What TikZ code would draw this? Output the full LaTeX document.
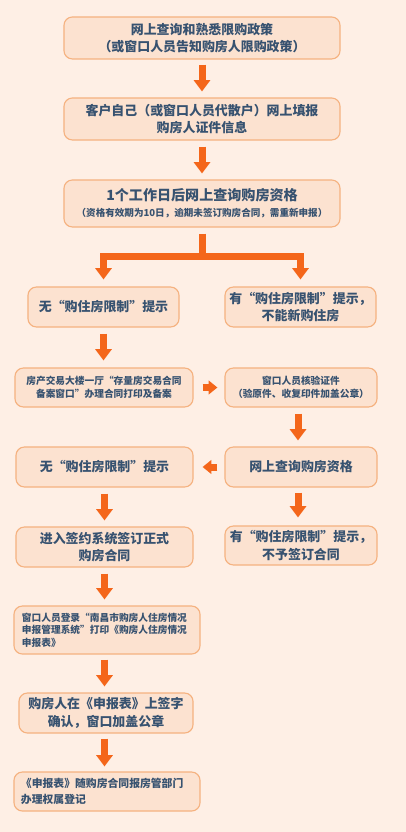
\documentclass[tikz,border=0pt]{standalone}
\usepackage{fontspec}
\setmainfont{Noto Sans CJK SC}
\usepackage{tikz}
\usetikzlibrary{arrows.meta}
\definecolor{pagebg}{RGB}{254,239,229}
\definecolor{boxfill}{RGB}{252,226,208}
\definecolor{boxline}{RGB}{245,178,128}
\definecolor{flowred}{RGB}{244,102,26}
\definecolor{inkblue}{RGB}{55,82,112}

\begin{document}
\begin{tikzpicture}[x=0.025cm, y=-0.025cm,
  box/.style={draw=boxline, fill=boxfill, line width=0.8pt, rounded corners=6pt,
              align=center, text=inkblue, inner sep=0pt, font=\bfseries\fontsize{9.2}{12.5}\selectfont},
  small/.style={font=\bfseries\fontsize{6.9}{9}\selectfont},
  flow/.style={flowred, line width=0.175cm, -{Triangle[width=0.4cm, length=0.28cm]}},
  sideflow/.style={flowred, line width=0.175cm, -{Triangle[width=0.34cm, length=0.22cm]}},
  bar/.style={flowred, line width=0.175cm}]
  \fill[pagebg] (0,0) rectangle (406,832);
  \useasboundingbox (0,0) rectangle (406,832);
  % main column
  \node[box, minimum width=6.9cm, minimum height=1.05cm] (query) at (202,38)
    {网上查询和熟悉限购政策\\（或窗口人员告知购房人限购政策）};
  \node[box, minimum width=6.9cm, minimum height=1.05cm] (fill) at (202,119)
    {客户自己（或窗口人员代散户）网上填报\\购房人证件信息};
  \node[box, minimum width=6.9cm, minimum height=1.175cm] (check) at (202,203.5)
    {{\fontsize{10}{14}\selectfont 1个工作日后网上查询购房资格}\\[-1pt]
     {\fontsize{6.8}{9}\selectfont （资格有效期为10日，逾期未签订购房合同，需重新申报）}};
  % first result
  \node[box, minimum width=3.775cm, minimum height=1cm] (nolimit) at (103.5,307)
    {无“购住房限制”提示};
  \node[box, minimum width=3.775cm, minimum height=1cm] (limit) at (300.5,307)
    {有“购住房限制”提示，\\不能新购住房};
  % filing
  \node[box, small, minimum width=4.45cm, minimum height=0.975cm] (record) at (104,387.5)
    {房产交易大楼一厅“存量房交易合同\\备案窗口”办理合同打印及备案};
  \node[box, small, minimum width=3.8cm, minimum height=0.975cm] (verify) at (301,387.5)
    {窗口人员核验证件\\（验原件、收复印件加盖公章）};
  \node[box, minimum width=3.8cm, minimum height=1cm] (recheck) at (301,467)
    {网上查询购房资格};
  \node[box, minimum width=4.425cm, minimum height=1cm] (nolimitb) at (104.5,467)
    {无“购住房限制”提示};
  \node[box, minimum width=4.425cm, minimum height=1cm] (sign) at (104.5,547)
    {进入签约系统签订正式\\购房合同};
  \node[box, minimum width=3.8cm, minimum height=0.975cm] (limitb) at (301,545.5)
    {有“购住房限制”提示，\\不予签订合同};
  % last steps
  \node[box, small, align=left, minimum width=4.65cm, minimum height=1.2cm,
        text width=4.25cm] (print) at (107,630)
    {窗口人员登录“南昌市购房人住房情况\\申报管理系统”打印《购房人住房情况\\申报表》};
  \node[box, minimum width=4.35cm, minimum height=1cm] (confirm) at (106,713)
    {购房人在《申报表》上签字\\确认，窗口加盖公章};
  \node[box, align=left, minimum width=4.65cm, minimum height=0.975cm, text width=4.3cm,
        font=\bfseries\fontsize{7.7}{11}\selectfont] (register) at (107,791.5)
    {《申报表》随购房合同报房管部门\\办理权属登记};
  % connectors
  \draw[flow, shorten <=0.125cm, shorten >=0.15cm] (query) -- (fill);
  \draw[flow, shorten <=0.15cm, shorten >=0.15cm] (fill) -- (check);
  \coordinate (split) at (202,256.5);
  \draw[bar, shorten <=0.15cm] (check) -- (split);
  \draw[bar, line cap=rect] (split -| nolimit) -- (split -| limit);
  \draw[flow, shorten >=0.175cm] (split -| nolimit) -- (nolimit);
  \draw[flow, shorten >=0.175cm] (split -| limit) -- (limit);
  \draw[flow, shorten <=0.15cm, shorten >=0.175cm] (nolimit) -- (nolimit |- record.north);
  \draw[sideflow, shorten <=0.225cm, shorten >=0.175cm] (record) -- (verify);
  \draw[flow, shorten <=0.15cm, shorten >=0.15cm] ([xshift=-0.075cm]verify.south) -- ([xshift=-0.075cm]verify.south |- recheck.north);
  \draw[sideflow, shorten <=0.175cm, shorten >=0.225cm] (recheck) -- (nolimitb);
  \draw[flow, shorten <=0.15cm, shorten >=0.15cm] (nolimitb) -- (sign);
  \draw[flow, shorten <=0.125cm, shorten >=0.2cm] ([xshift=-0.075cm]recheck.south) -- ([xshift=-0.075cm]recheck.south |- limitb.north);
  \draw[flow, shorten <=0.15cm, shorten >=0.15cm] (sign.south) -- (sign.south |- print.north);
  \draw[flow, shorten <=0.125cm, shorten >=0.15cm] (sign.south |- print.south) -- (sign.south |- confirm.north);
  \draw[flow, shorten <=0.125cm, shorten >=0.125cm] (sign.south |- confirm.south) -- (sign.south |- register.north);
\end{tikzpicture}
\end{document}
